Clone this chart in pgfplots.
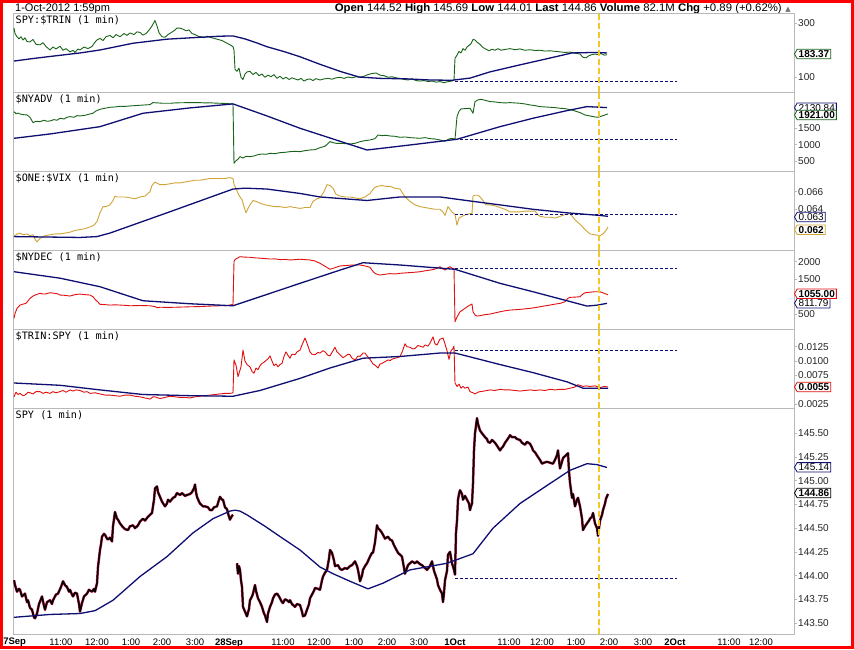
\documentclass[border=0pt]{standalone}
\usepackage{pgfplots}
\pgfplotsset{compat=1.18}
\usepackage{graphicx}
\usepackage{fontspec}
\usetikzlibrary{shapes.symbols}
\setmainfont{Liberation Sans}
\newfontfamily\monofont{DejaVu Sans Mono}
\newfontfamily\symfont{DejaVu Sans}
\newcommand\ticklab{\fontsize{10}{10}\selectfont}
\newcommand\titlefont{\monofont\fontsize{10.2}{10.5}\selectfont}

\definecolor{trgreen}{RGB}{25,100,25}
\definecolor{manavy}{RGB}{15,15,115}
\definecolor{vixgold}{RGB}{208,165,55}
\definecolor{decred}{RGB}{225,15,15}
\definecolor{barred}{RGB}{185,20,65}
\definecolor{nowline}{RGB}{240,200,40}
\definecolor{frame}{RGB}{185,185,185}

\pgfplotsset{
  panel/.style={
    scale only axis, width=780.5pt, anchor=north west,
    xmin=13.5, xmax=794,
    axis line style={draw=frame, line width=0.8pt},
    xtick=\empty, scaled y ticks=false,
    ytick pos=right, yticklabel pos=right,
    tick align=outside, major tick length=3pt,
    tick style={draw=frame, line width=0.6pt},
    yticklabel style={font=\ticklab, text=black!85, inner sep=1pt},
    /pgf/number format/assume math mode=true,
  },
  series/.style={line width=0.9pt, line join=round},
  ma/.style={manavy, line width=1.3pt, line join=round},
  lastline/.style={manavy, line width=0.9pt, dash pattern=on 3pt off 2pt},
  now/.style={nowline, line width=1.3pt, dash pattern=on 6pt off 3pt},
}
\tikzset{
  tag/.style={signal, signal to=west, signal pointer angle=120, draw=#1, fill=white,
    line width=0.8pt, inner xsep=1.5pt, inner ysep=1.2pt, anchor=west, font=\ticklab},
}

\begin{document}
\begin{tikzpicture}
\useasboundingbox (0,0) rectangle (854pt,649pt);
\fill[white] (0,0) rectangle (854pt,649pt);

% header
\node[anchor=base west, inner sep=0pt, font=\fontsize{11}{11}\selectfont] at (15pt,637.8pt) {1-Oct-2012 1:59pm};
\node[anchor=base east, inner sep=0pt, font=\fontsize{11}{11}\selectfont] at (782pt,637.8pt)
  {\resizebox{447pt}{\height}{\textbf{Open} 144.52 \textbf{High} 145.69 \textbf{Low} 144.01 \textbf{Last} 144.86 \textbf{Volume} 82.1M \textbf{Chg} +0.89 (+0.62\%)}};
\node[anchor=base, inner sep=0pt, text=black!55, font=\symfont\fontsize{7}{7}\selectfont] at (788pt,637.8pt) {▲};

% ---- SPY:$TRIN
\begin{axis}[panel, at={(13.5pt,635.5pt)}, height=78.5pt, ymin=45.6, ymax=336,
  ytick={100,300}, yticklabels={100,300}]
\addplot[series, trgreen] coordinates {
(14,282) (15,262) (17,250) (19,242) (21,250) (23,238) (25,246) (27,232) (30,231) (33,240) (36,222) (40,220)
(43,228) (46,214) (50,201) (53,212) (56,205) (60,215) (63,200) (66,206) (70,194) (73,200) (75,192) (78,205)
(80,201) (84,212) (88,206) (92,214) (95,230) (97,238) (100,244) (103,236) (106,250) (110,255) (113,246) (116,258)
(120,250) (124,262) (127,255) (130,264) (134,258) (137,268) (140,266) (143,256) (146,262) (149,274) (152,290) (155,310)
(157,290) (159,265) (162,250) (165,248) (168,258) (171,265) (174,272) (177,282) (180,282) (183,278) (186,272) (189,275)
(192,262) (195,258) (198,252) (201,250) (204,246) (207,252) (210,248) (214,244) (218,240) (222,236) (226,228) (229,222)
(231,218) (233,213) (234,200) (235,130) (237,122) (239,134) (241,100) (243,92) (245,112) (247,120) (250,122) (253,110)
(256,118) (259,106) (262,112) (265,100) (268,108) (271,102) (274,110) (277,96) (280,104) (283,94) (286,100) (289,92)
(292,98) (295,94) (298,90) (301,96) (304,86) (307,92) (310,94) (313,88) (316,95) (320,90) (324,94) (328,96)
(332,93) (336,98) (340,100) (344,96) (348,101) (352,98) (356,102) (360,100) (364,104) (368,110) (372,114) (376,116)
(380,108) (384,106) (388,100) (392,102) (396,98) (400,96) (404,92) (408,90) (412,94) (416,88) (420,86) (424,88)
(428,84) (432,86) (436,82) (440,84) (444,80) (448,84) (452,86) (454,90) (455,170) (457,182) (459,196) (461,190)
(463,206) (465,200) (467,212) (469,218) (471,224) (473,240) (475,238) (477,230) (480,222) (483,210) (486,204) (489,198)
(492,204) (495,200) (498,206) (501,200) (505,203) (510,206) (515,202) (520,205) (525,200) (530,202) (535,199) (540,200)
(545,197) (550,198) (555,196) (560,194) (565,192) (570,193) (575,190) (580,186) (583,174) (586,172) (589,180) (592,184)
(595,186) (598,184) (601,188) (604,182) (607,183.37)
};
\addplot[ma] coordinates {
(14,160) (30,168) (50,177) (80,190) (100,201) (133,226) (167,241) (200,248) (220,252) (233,253) (245,242) (257,227)
(267,213) (285,194) (300,176) (320,148) (340,122) (359,101) (380,96) (408,94) (430,90) (452,89) (470,97) (490,120)
(520,146) (545,167) (572,190) (595,192) (607,190)
};
\addplot[lastline] coordinates {(455,86.3) (677,86.3)};
\addplot[now] coordinates {(599,45.6) (599,336)};
\node[anchor=north west, inner sep=0pt, font=\titlefont] at (rel axis cs:0,1) [xshift=2pt, yshift=-2.5pt] {SPY:\$TRIN (1 min)};
\end{axis}

% ---- $NYADV
\begin{axis}[panel, at={(13.5pt,557pt)}, height=79pt, ymin=210, ymax=2578,
  ytick={500,1000,1500}, yticklabels={500,1000,1500}]
\addplot[series, trgreen] coordinates {
(14,1989) (16,1930) (18,1945) (20,1920) (23,1900) (27,1890) (30,1820) (33,1660) (36,1700) (40,1690) (44,1730) (47,1700)
(50,1710) (54,1750) (57,1730) (60,1790) (64,1770) (67,1820) (70,1840) (74,1820) (77,1870) (80,1860) (85,1880) (90,1920)
(93,1940) (96,2010) (100,2060) (105,2090) (110,2120) (115,2130) (120,2150) (125,2145) (130,2160) (135,2170) (140,2180) (145,2190)
(150,2200) (153,2260) (158,2250) (163,2240) (170,2240) (175,2250) (180,2255) (190,2260) (200,2260) (205,2250) (210,2255) (215,2245)
(220,2240) (225,2235) (230,2225) (233,2220) (234,440) (236,520) (238,560) (240,640) (243,600) (246,650) (250,640) (254,660)
(258,700) (262,720) (266,710) (270,740) (275,730) (280,760) (285,770) (290,790) (295,800) (300,790) (305,820) (310,840)
(315,850) (320,910) (325,950) (330,1090) (333,1060) (336,1040) (340,1040) (345,1030) (350,1020) (355,1040) (360,1090) (365,1120)
(370,1140) (375,1180) (378,1290) (382,1270) (386,1280) (390,1260) (395,1250) (400,1220) (405,1230) (410,1210) (415,1200) (420,1190)
(425,1210) (430,1180) (435,1170) (440,1140) (445,1100) (449,1170) (452,1190) (455,1160) (456,1500) (457,1840) (459,2000) (461,2070)
(465,2080) (470,2090) (473,1940) (475,2290) (478,2340) (481,2360) (485,2330) (490,2290) (495,2280) (500,2260) (505,2250) (510,2260)
(515,2250) (520,2240) (525,2220) (530,2190) (535,2170) (540,2140) (545,2130) (550,2120) (555,2110) (560,2090) (565,2080) (570,2050)
(575,2010) (580,1960) (585,1890) (590,1860) (595,1830) (598,1820) (601,1850) (604,1880) (608,1921)
};
\addplot[ma] coordinates {
(14,1190) (50,1320) (100,1539) (143,1941) (190,2101) (233,2221) (267,1860) (300,1491) (367,839) (410,990) (457,1161) (500,1539)
(533,1791) (567,2020) (587,2140) (607,2110)
};
\addplot[lastline] coordinates {(455,1161) (677,1161)};
\addplot[now] coordinates {(599,210) (599,2578)};
\node[anchor=north west, inner sep=0pt, font=\titlefont] at (rel axis cs:0,1) [xshift=2pt, yshift=-2.5pt] {\$NYADV (1 min)};
\end{axis}

% ---- $ONE:$VIX
\begin{axis}[panel, at={(13.5pt,478pt)}, height=79pt, ymin=0.059375, ymax=0.06835,
  ytick={0.064,0.066}, yticklabels={0.064,0.066}]
\addplot[series, vixgold] coordinates {
(14,0.0609) (17,0.0612) (20,0.0613) (23,0.0611) (27,0.0612) (30,0.0610) (33,0.0611) (35,0.0606) (37,0.0603) (40,0.0607)
(45,0.0610) (50,0.0611) (55,0.0612) (60,0.0612) (65,0.0613) (70,0.0614) (75,0.0616) (80,0.0617) (85,0.0618) (90,0.0620)
(94,0.0622) (97,0.0626) (100,0.0636) (103,0.0643) (106,0.0643) (110,0.0645) (113,0.0650) (115,0.0655) (117,0.0654) (121,0.0654)
(125,0.0654) (130,0.0653) (135,0.0652) (140,0.0654) (145,0.0655) (148,0.0658) (150,0.0660) (152,0.0667) (155,0.0671) (158,0.0669)
(160,0.0668) (165,0.0668) (170,0.0669) (175,0.0670) (180,0.0670) (185,0.0671) (190,0.0672) (195,0.0673) (200,0.0673) (205,0.0674)
(210,0.0675) (218,0.0675) (225,0.0675) (230,0.0676) (233,0.0675) (234,0.0668) (236,0.0664) (238,0.0658) (240,0.0654) (242,0.0651)
(244,0.0643) (246,0.0636) (248,0.0641) (250,0.0645) (253,0.0650) (256,0.0649) (260,0.0647) (265,0.0645) (270,0.0644) (275,0.0643)
(280,0.0643) (285,0.0642) (290,0.0643) (295,0.0642) (300,0.0641) (305,0.0642) (310,0.0642) (313,0.0649) (317,0.0652) (320,0.0653)
(324,0.0660) (327,0.0668) (330,0.0667) (333,0.0664) (336,0.0657) (340,0.0655) (345,0.0654) (350,0.0654) (355,0.0653) (360,0.0652)
(365,0.0654) (370,0.0658) (374,0.0664) (377,0.0666) (382,0.0667) (386,0.0666) (390,0.0666) (395,0.0664) (400,0.0663) (405,0.0654)
(410,0.0649) (415,0.0645) (420,0.0643) (425,0.0642) (430,0.0641) (435,0.0640) (440,0.0640) (443,0.0637) (445,0.0633) (448,0.0643)
(450,0.0640) (452,0.0637) (455,0.0634) (457,0.0622) (459,0.0630) (462,0.0632) (466,0.0634) (470,0.0635) (472,0.0635) (473,0.0655)
(475,0.0656) (478,0.0656) (480,0.0654) (483,0.0650) (486,0.0645) (490,0.0645) (495,0.0644) (500,0.0642) (505,0.0640) (510,0.0637)
(515,0.0637) (520,0.0637) (525,0.0638) (530,0.0638) (535,0.0638) (538,0.0634) (540,0.0632) (545,0.0631) (550,0.0631) (555,0.0630)
(560,0.0632) (565,0.0634) (570,0.0635) (573,0.0631) (575,0.0628) (578,0.0625) (581,0.0622) (585,0.0617) (588,0.0614) (590,0.0612)
(595,0.0611) (600,0.0610) (603,0.0612) (606,0.0616) (608,0.0620)
};
\addplot[ma] coordinates {
(14,0.0609) (80,0.0608) (97,0.0609) (110,0.0613) (167,0.0636) (233,0.0663) (245,0.0664) (267,0.0663) (300,0.0658) (320,0.0654)
(367,0.0650) (400,0.0654) (440,0.0654) (473,0.0649) (500,0.0645) (533,0.0640) (567,0.0636) (600,0.0633) (608,0.0632)
};
\addplot[lastline] coordinates {(455,0.06343) (677,0.06343)};
\addplot[now] coordinates {(599,0.059375) (599,0.06835)};
\node[anchor=north west, inner sep=0pt, font=\titlefont] at (rel axis cs:0,1) [xshift=2pt, yshift=-2.5pt] {\$ONE:\$VIX (1 min)};
\end{axis}

% ---- $NYDEC
\begin{axis}[panel, at={(13.5pt,399pt)}, height=79pt, ymin=80, ymax=2334,
  ytick={500,1500,2000}, yticklabels={500,1500,2000}]
\addplot[series, decred] coordinates {
(14,383) (15,520) (17,669) (20,763) (23,790) (26,811) (30,954) (33,1020) (36,1060) (40,1097) (43,1080) (45,1077)
(48,1100) (50,1114) (53,1105) (55,1097) (58,1080) (60,1049) (65,1040) (70,1020) (75,1060) (80,1077) (85,1060) (90,1049)
(93,1000) (95,926) (98,850) (100,783) (105,775) (110,763) (115,770) (120,763) (125,755) (130,743) (140,750) (150,743)
(155,720) (157,686) (160,700) (170,697) (180,705) (190,714) (200,720) (210,734) (220,743) (228,750) (233,783) (234,2000)
(235,2060) (237,2097) (240,2143) (245,2130) (250,2126) (255,2110) (260,2100) (265,2090) (270,2077) (275,2080) (280,2060) (285,2065)
(290,2049) (295,2060) (300,2070) (305,2060) (310,2049) (315,2020) (320,1954) (325,1870) (330,1783) (335,1830) (340,1877) (345,1890)
(350,1900) (355,1905) (360,1906) (365,1880) (370,1840) (373,1720) (375,1669) (378,1630) (380,1620) (385,1640) (390,1660) (395,1650)
(400,1669) (405,1680) (410,1690) (415,1700) (420,1714) (425,1740) (430,1760) (435,1790) (440,1857) (442,1810) (445,1763) (448,1830)
(450,1857) (453,1800) (454,1811) (455,286) (457,420) (460,571) (463,630) (465,669) (468,730) (470,763) (472,791) (473,571)
(475,480) (477,449) (480,460) (485,490) (490,506) (495,540) (500,571) (505,600) (510,620) (515,630) (520,640) (525,655)
(530,669) (535,690) (540,714) (545,740) (550,763) (555,790) (560,811) (565,857) (568,960) (570,983) (575,990) (580,1000)
(583,1080) (585,1114) (590,1130) (595,1143) (600,1143) (604,1100) (608,1055)
};
\addplot[ma] coordinates {
(14,1714) (60,1530) (100,1286) (143,886) (190,800) (233,743) (260,1000) (300,1383) (340,1760) (363,1971) (400,1906) (455,1783)
(500,1383) (533,1143) (567,886) (587,734) (597,760) (607,811.79)
};
\addplot[lastline] coordinates {(455,1811) (677,1811)};
\addplot[now] coordinates {(599,80) (599,2334)};
\node[anchor=north west, inner sep=0pt, font=\titlefont] at (rel axis cs:0,1) [xshift=2pt, yshift=-2.5pt] {\$NYDEC (1 min)};
\end{axis}

% ---- $TRIN:SPY
\begin{axis}[panel, at={(13.5pt,320pt)}, height=79pt, ymin=0.00186, ymax=0.01557,
  ytick={0.0025,0.0075,0.01,0.0125}, yticklabels={0.0025,0.0075,0.0100,0.0125}]
\addplot[series, decred] coordinates {
(14,0.0038) (16,0.0046) (18,0.0042) (20,0.0044) (23,0.0040) (25,0.0041) (28,0.0046) (30,0.0045) (33,0.0043) (36,0.0047)
(40,0.0047) (43,0.0044) (46,0.0046) (50,0.0044) (53,0.0047) (56,0.0045) (60,0.0047) (63,0.0049) (66,0.0046) (70,0.0050)
(73,0.0048) (76,0.0050) (80,0.0049) (84,0.0046) (87,0.0047) (90,0.0044) (95,0.0045) (100,0.0043) (105,0.0041) (110,0.0041)
(115,0.0040) (120,0.0039) (125,0.0041) (130,0.0041) (135,0.0039) (140,0.0038) (145,0.0036) (148,0.0035) (150,0.0034) (153,0.0038)
(155,0.0038) (158,0.0036) (160,0.0035) (165,0.0037) (170,0.0039) (175,0.0038) (180,0.0037) (185,0.0037) (190,0.0036) (195,0.0038)
(200,0.0039) (205,0.0040) (210,0.0041) (215,0.0042) (220,0.0043) (225,0.0044) (230,0.0044) (233,0.0045) (234,0.0102) (236,0.0093)
(238,0.0073) (241,0.0090) (243,0.0119) (245,0.0100) (247,0.0094) (250,0.0090) (252,0.0082) (254,0.0079) (256,0.0088) (258,0.0085)
(260,0.0092) (262,0.0096) (264,0.0098) (266,0.0101) (268,0.0104) (270,0.0109) (272,0.0100) (274,0.0092) (276,0.0095) (278,0.0090)
(280,0.0094) (282,0.0096) (284,0.0108) (286,0.0116) (288,0.0110) (290,0.0105) (292,0.0112) (295,0.0111) (297,0.0116) (300,0.0119)
(302,0.0128) (305,0.0140) (307,0.0131) (310,0.0116) (312,0.0112) (315,0.0111) (318,0.0115) (320,0.0114) (323,0.0118) (325,0.0116)
(328,0.0110) (330,0.0109) (333,0.0118) (335,0.0124) (337,0.0116) (340,0.0111) (343,0.0106) (345,0.0108) (348,0.0112) (350,0.0111)
(352,0.0105) (355,0.0102) (358,0.0109) (360,0.0108) (363,0.0114) (365,0.0114) (368,0.0107) (370,0.0103) (373,0.0095) (375,0.0093)
(378,0.0088) (380,0.0095) (382,0.0096) (385,0.0099) (388,0.0102) (390,0.0101) (393,0.0104) (395,0.0105) (398,0.0106) (400,0.0108)
(402,0.0115) (405,0.0130) (407,0.0125) (410,0.0124) (413,0.0121) (415,0.0122) (418,0.0127) (420,0.0126) (423,0.0124) (425,0.0128)
(428,0.0126) (430,0.0131) (433,0.0142) (435,0.0130) (437,0.0128) (440,0.0138) (443,0.0140) (445,0.0130) (447,0.0118) (449,0.0103)
(451,0.0118) (453,0.0122) (454,0.0126) (455,0.0062) (457,0.0056) (459,0.0060) (461,0.0053) (463,0.0056) (465,0.0053) (468,0.0055)
(470,0.0047) (473,0.0045) (475,0.0043) (478,0.0046) (480,0.0047) (484,0.0048) (487,0.0049) (490,0.0050) (495,0.0049) (500,0.0051)
(505,0.0050) (510,0.0050) (515,0.0049) (520,0.0048) (525,0.0049) (530,0.0050) (535,0.0049) (540,0.0050) (545,0.0049) (550,0.0051)
(555,0.0050) (560,0.0051) (565,0.0051) (570,0.0053) (575,0.0055) (578,0.0059) (580,0.0058) (583,0.0056) (586,0.0057) (590,0.0056)
(595,0.0057) (600,0.0054) (604,0.0056) (608,0.0055)
};
\addplot[ma] coordinates {
(14,0.0062) (60,0.0058) (100,0.0050) (143,0.0042) (190,0.0040) (233,0.0039) (260,0.0049) (300,0.0070) (330,0.0088) (363,0.0105)
(400,0.0108) (440,0.0114) (455,0.0114) (500,0.0094) (533,0.0080) (567,0.0064) (583,0.0053) (608,0.0053)
};
\addplot[lastline] coordinates {(455,0.01193) (677,0.01193)};
\addplot[now] coordinates {(599,0.00186) (599,0.01557)};
\node[anchor=north west, inner sep=0pt, font=\titlefont] at (rel axis cs:0,1) [xshift=2pt, yshift=-2.5pt] {\$TRIN:SPY (1 min)};
\end{axis}

% ---- SPY
\begin{axis}[panel, at={(13.5pt,241pt)}, height=226pt, ymin=143.384, ymax=145.767,
  ytick={143.5,143.75,144,144.25,144.5,144.75,145,145.25,145.5},
  yticklabels={143.50,143.75,144.00,144.25,144.50,144.75,145.00,145.25,145.50},
  xtick={61,97,131,162,195,229,283,319,354,387,419,455,509,542,576,609,643,675,729,761},
  xticklabels={11:00,12:00,1:00,2:00,3:00,\textbf{28Sep},11:00,12:00,1:00,2:00,3:00,\textbf{1Oct},11:00,12:00,1:00,2:00,3:00,\textbf{2Oct},11:00,12:00},
  xtick style={draw=none},
  xticklabel style={font=\fontsize{9.5}{9.5}\selectfont, text=black, inner sep=1pt, yshift=-1pt},
  unbounded coords=jump]
\pgfplotstableread{
x y
14 143.95
15 143.90
17 143.83
19 143.86
20 143.85
22 143.78
25 143.81
27 143.72
28 143.74
30 143.66
32 143.64
34 143.56
35 143.55
37 143.60
39 143.70
42 143.78
44 143.68
45 143.64
47 143.72
50 143.74
52 143.70
53 143.74
56 143.80
58 143.81
61 143.88
63 143.94
65 143.90
67 143.88
69 143.83
70 143.85
72 143.80
73 143.78
75 143.82
77 143.81
79 143.70
80 143.62
82 143.71
84 143.78
87 143.81
89 143.85
92 143.83
94 143.86
95 143.83
97 143.92
98 144.09
100 144.27
101 144.33
102 144.41
104 144.44
105 144.43
107 144.39
108 144.38
110 144.40
112 144.36
113 144.52
115 144.67
117 144.60
118 144.59
120 144.55
123 144.51
125 144.49
128 144.48
130 144.52
133 144.53
135 144.50
138 144.53
140 144.57
143 144.60
145 144.58
148 144.62
150 144.64
152 144.66
154 144.80
155 144.92
157 144.94
158 144.88
160 144.83
162 144.78
165 144.73
167 144.76
168 144.80
170 144.78
173 144.82
175 144.83
177 144.87
180 144.85
182 144.87
185 144.84
187 144.85
190 144.86
192 144.88
194 144.92
195 144.96
196 144.88
197 144.83
199 144.78
200 144.76
203 144.73
205 144.73
208 144.72
210 144.69
212 144.69
214 144.72
217 144.73
219 144.80
220 144.83
222 144.80
223 144.80
225 144.72
227 144.70
229 144.62
230 144.59
232 144.63
233 144.64
235 nan
237 144.13
238 144.02
239 144.10
240 144.06
241 143.95
242 143.88
243 143.67
245 143.62
247 143.57
249 143.65
250 143.74
252 143.78
253 143.81
255 143.90
256 143.84
258 143.76
260 143.72
262 143.67
264 143.60
265 143.58
267 143.51
268 143.60
270 143.67
272 143.72
273 143.76
275 143.80
277 143.81
279 143.78
280 143.76
282 143.72
283 143.71
285 143.75
287 143.74
289 143.72
290 143.74
292 143.70
295 143.67
297 143.70
300 143.69
302 143.62
303 143.57
305 143.58
307 143.64
309 143.70
310 143.76
312 143.80
314 143.84
315 143.87
318 143.86
320 143.85
322 143.95
323 143.99
325 144.03
327 144.06
329 144.18
330 144.27
332 144.24
334 144.16
335 144.10
338 144.11
340 144.07
342 144.06
345 144.08
347 144.07
350 144.10
352 144.11
355 144.15
357 144.10
358 144.06
360 143.94
362 144.00
363 144.06
365 144.10
367 144.13
370 144.20
372 144.24
373 144.24
375 144.35
377 144.53
378 144.50
380 144.48
382 144.45
385 144.39
388 144.41
390 144.38
392 144.37
394 144.32
395 144.30
397 144.26
398 144.24
400 144.22
402 144.20
404 144.08
405 144.02
407 144.08
408 144.11
410 144.13
412 144.15
415 144.13
417 144.15
420 144.12
422 144.11
425 144.08
427 144.06
430 144.10
432 144.15
434 144.05
435 144.02
437 143.96
438 143.90
440 143.85
442 143.81
443 143.72
444 143.82
445 143.95
447 144.05
448 144.22
450 144.25
452 144.13
454 144.06
455 144.01
456 144.45
457 144.58
458 144.80
459 144.86
460 144.90
462 144.86
463 144.80
465 144.84
467 144.80
469 144.76
470 144.69
471 144.73
472 144.76
473 144.97
474 145.32
475 145.50
476 145.58
477 145.66
478 145.60
480 145.53
482 145.50
485 145.46
487 145.44
488 145.41
490 145.40
492 145.43
494 145.41
495 145.40
497 145.37
500 145.32
502 145.35
503 145.36
505 145.40
507 145.43
509 145.46
510 145.48
512 145.46
515 145.46
517 145.44
520 145.43
522 145.40
525 145.38
527 145.41
530 145.39
532 145.35
533 145.32
535 145.30
538 145.25
540 145.22
542 145.18
544 145.19
547 145.20
550 145.19
553 145.18
555 145.22
557 145.27
558 145.32
559 145.22
560 145.13
562 145.20
563 145.24
565 145.26
567 145.28
568 145.29
569 145.10
570 144.98
572 144.82
573 144.86
575 144.73
577 144.80
578 144.82
580 144.73
582 144.60
583 144.48
585 144.52
587 144.55
589 144.58
590 144.60
592 144.62
593 144.66
595 144.55
597 144.50
598 144.42
600 144.58
602 144.64
603 144.69
605 144.76
606 144.81
608 144.86
}\spytable
\addplot[barred, line width=2.5pt, line join=round] table {\spytable};
\addplot[black, line width=1.5pt, line join=round] table {\spytable};
\addplot[ma] coordinates {
(14,143.56) (50,143.59) (80,143.60) (95,143.63) (100,143.66) (113,143.74) (140,143.99) (167,144.20) (193,144.45) (213,144.60)
(230,144.68) (235,144.69) (240,144.68) (247,144.64) (265,144.52) (283,144.39) (300,144.27) (320,144.09) (333,144.02) (350,143.94)
(368,143.86) (383,143.92) (410,144.06) (447,144.13) (473,144.23) (493,144.50) (520,144.76) (547,144.95) (570,145.11) (587,145.18)
(597,145.17) (607,145.14)
};
\addplot[lastline] coordinates {(455,143.97) (677,143.97)};
\addplot[now] coordinates {(599,143.384) (599,145.767)};
\node[anchor=north west, inner sep=0pt, font=\titlefont] at (rel axis cs:0,1) [xshift=2pt, yshift=-2.5pt] {SPY (1 min)};
\end{axis}

\node[anchor=base, inner sep=0pt, font=\fontsize{9.5}{9.5}\selectfont\bfseries] at (12pt,4.5pt) {27Sep};

% last-value tags
\node[tag=trgreen, font=\ticklab\bfseries] at (794pt,595pt) {183.37};
\node[tag=manavy] at (794pt,541.3pt) {2130.84};
\node[tag=trgreen, font=\ticklab\bfseries] at (794pt,534pt) {1921.00};
\node[tag=manavy] at (794pt,432pt) {0.063};
\node[tag=vixgold, font=\ticklab\bfseries] at (794pt,419.3pt) {0.062};
\node[tag=manavy] at (794pt,345.7pt) {811.79};
\node[tag=decred, font=\ticklab\bfseries] at (794pt,355.3pt) {1055.00};
\node[tag=decred, font=\ticklab\bfseries] at (794pt,262pt) {0.0055};
\node[tag=manavy] at (794pt,181.7pt) {145.14};
\node[tag=black, font=\ticklab\bfseries] at (794pt,156pt) {144.86};

% red frame
\draw[red, line width=3pt] (1.5pt,1.5pt) rectangle (852.5pt,647.5pt);
\end{tikzpicture}
\end{document}
